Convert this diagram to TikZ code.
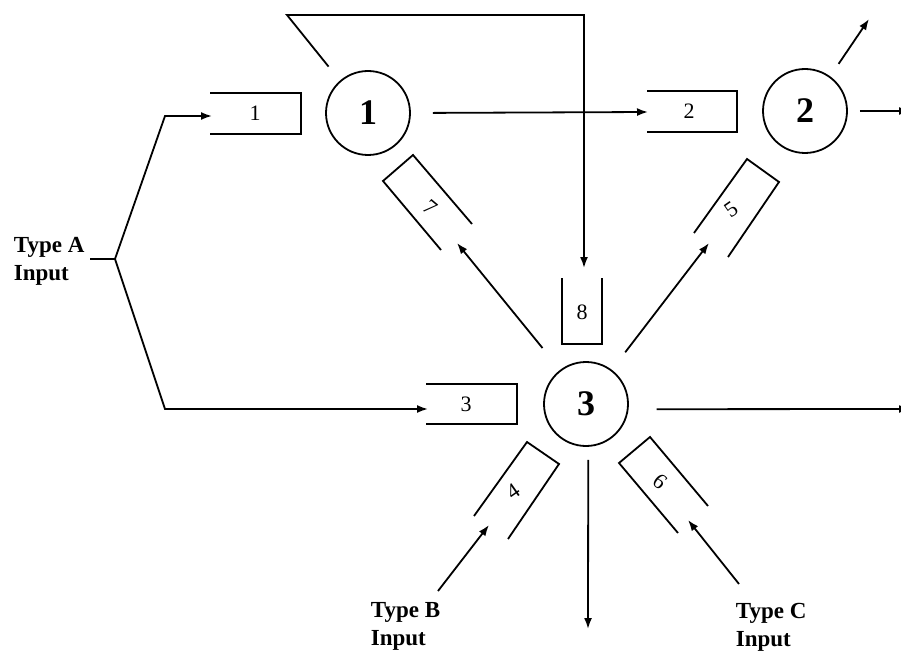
\documentclass[tikz,border=0pt]{standalone}
\usepackage{fontspec}
\setmainfont{Liberation Serif}
\usetikzlibrary{arrows.meta}
\begin{document}
\begin{tikzpicture}[x=1pt,y=-1pt,
  line width=1.8pt,
  arr/.style={-{Latex[length=11pt,width=8pt]}},
  srv/.style={circle,draw,minimum size=84pt,inner sep=0pt,font=\fontsize{36}{36}\selectfont\bfseries},
  qlab/.style={inner sep=0pt,font=\fontsize{22}{22}\selectfont},
  qbox/.style={line join=miter},
  inlab/.style={inner sep=0pt,anchor=north west,align=left,font=\fontsize{23}{28}\selectfont\bfseries}]
\clip (0,0) rectangle (901,652);
\useasboundingbox (0,0) rectangle (901,652);

% servers
\node[srv] (c1) at (368,113) {1};
\node[srv] (c2) at (805,111) {2};
\node[srv] (c3) at (586,404) {3};

% queues
\draw[qbox] (210,93) -- (301,93) -- (301,134) -- (210,134);
\node[qlab] (l1) at (255,113) {1};
\draw[qbox] (647,91) -- (737,91) -- (737,132) -- (647,132);
\node[qlab] (l2) at (689,111) {2};
\draw[qbox] (426,384) -- (517,384) -- (517,424) -- (426,424);
\node[qlab] (l3) at (466,404) {3};
\draw[qbox] (562,278) -- (562,344) -- (602,344) -- (602,278);
\node[qlab] (l8) at (582,312) {8};
\draw[qbox] (441,250) -- (383,181) -- (413,155) -- (472,224);
\node[qlab,rotate=-40] (l7) at (430,208) {7};
\draw[qbox] (694,233) -- (747,159) -- (779,182) -- (728,257);
\node[qlab,rotate=35] (l5) at (731,210) {5};
\draw[qbox] (474,516) -- (527,442) -- (559,464) -- (508,539);
\node[qlab,rotate=35] (l4) at (513,491) {4};
\draw[qbox] (678,533) -- (619,463) -- (650,437) -- (708,506);
\node[qlab,rotate=-40] (l6) at (660,482) {6};

% queue entry points
\coordinate (q1in) at (212,116);
\coordinate (q2in) at (648,112);
\coordinate (q3in) at (428,409);
\coordinate (q8in) at (584,268);
\coordinate (q7in) at (457,243);
\coordinate (q5in) at (709,243);
\coordinate (q4in) at (489,525);
\coordinate (q6in) at (688,520);

% input labels
\node[inlab] (ta) at (13,236) {Type A\\Input};
\node[inlab] (tb) at (370,602) {Type B\\Input};
\node[inlab] (tc) at (735,602) {Type C\\Input};

% Type A split
\coordinate (atick) at (90,259);
\coordinate (asplit) at (115,259);
\coordinate (aup) at (165,116);
\coordinate (adn) at (165,409);
\draw (atick) -- (asplit);
\draw[arr] (asplit) -- (aup) -- (q1in);
\draw[arr] (asplit) -- (adn) -- (q3in);

% Type B, C
\coordinate (bsrc) at (438,591);
\coordinate (csrc) at (739,584);
\draw[arr] (bsrc) -- (q4in);
\draw[arr] (csrc) -- (q6in);

% server 1 outputs
\draw[arr,shorten <=22pt] (c1.east) -- (q2in);
\coordinate (k1) at (287,15);
\coordinate (k2) at (584,15);
\draw[arr,shorten <=18pt] (c1.131) -- (k1) -- (k2) -- (q8in);

% server 2 outputs
\coordinate (o2a) at (869,19);
\coordinate (o2b) at (910,111);
\draw[arr,shorten <=15pt] (c2.54) -- (o2a);
\draw[arr,shorten <=12pt] (c2.east) -- (o2b);

% server 3 outputs
\coordinate (o3d) at (588,629);
\coordinate (o3r) at (910,409);
\draw[arr,shorten <=28pt] (c3.127) -- (q7in);
\draw[arr,shorten <=22pt] (c3.53) -- (q5in);
\draw[arr,shorten <=13pt] (c3.-87) -- (o3d);
\draw[arr,shorten <=28pt] (c3.-7) -- (o3r);
\end{tikzpicture}
\end{document}
